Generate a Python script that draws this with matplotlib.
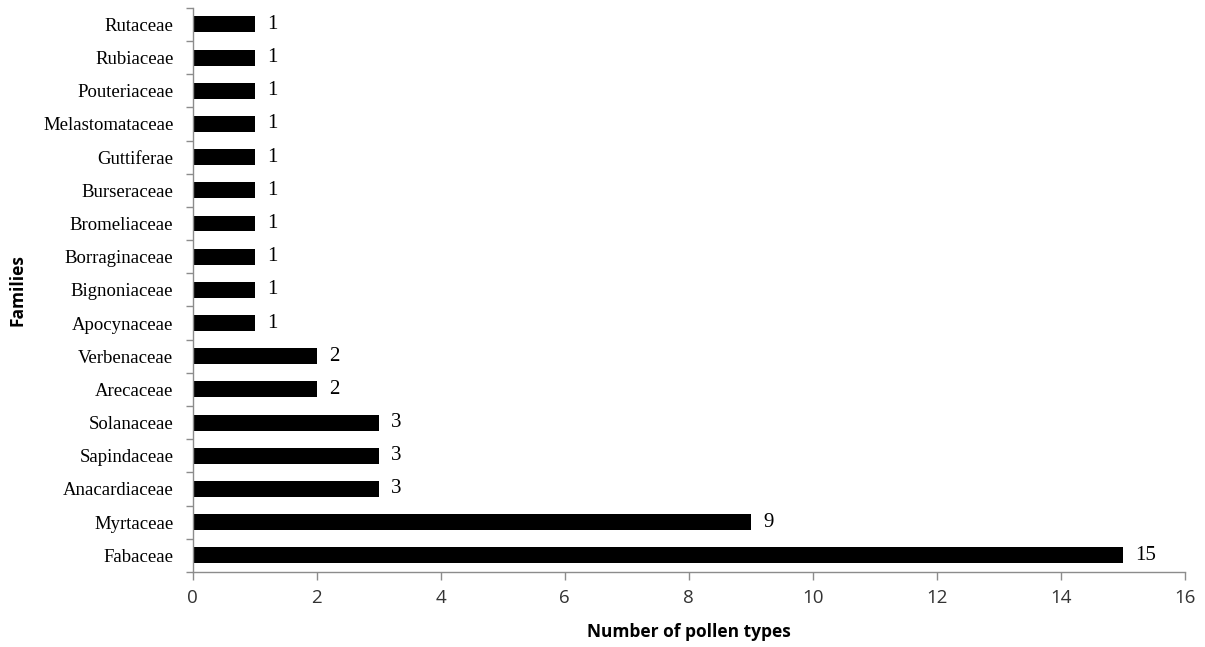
import matplotlib
matplotlib.use("Agg")
import matplotlib.pyplot as plt
import numpy as np

# 數據 (由下而上)
families = ["Fabaceae", "Myrtaceae", "Anacardiaceae", "Sapindaceae", "Solanaceae",
            "Arecaceae", "Verbenaceae", "Apocynaceae", "Bignoniaceae", "Borraginaceae",
            "Bromeliaceae", "Burseraceae", "Guttiferae", "Melastomataceae", "Pouteriaceae",
            "Rubiaceae", "Rutaceae"]
counts = [15, 9, 3, 3, 3, 2, 2, 1, 1, 1, 1, 1, 1, 1, 1, 1, 1]
xticks = [0, 2, 4, 6, 8, 10, 12, 14, 16]

GRAY = "#8c8c8c"
SERIF = ["Liberation Serif", "DejaVu Serif"]
SANS = ["Open Sans", "DejaVu Sans"]

fig = plt.figure(figsize=(12.05, 6.47), dpi=100)
ax = fig.add_axes([0.160, 0.116, 0.823, 0.872])

y = np.arange(len(families))
ax.barh(y, counts, height=0.48, color="black")

for yi, v in zip(y, counts):
    ax.text(v + 0.2, yi, str(v), va="center", ha="left", fontsize=15, family=SERIF)

ax.set_xlim(0, 16)
ax.set_ylim(-0.5, len(families) - 0.5)
ax.set_xticks(xticks)
ax.set_xticklabels([str(t) for t in xticks], family=SANS, fontsize=13.5, color="#333333")
ax.set_yticks(y)
ax.set_yticklabels(families, family=SERIF, fontsize=13.5)
ax.set_yticks(np.arange(-0.5, len(families), 1), minor=True)
ax.tick_params(axis="y", which="major", length=0, pad=14)
ax.tick_params(axis="y", which="minor", length=5, color=GRAY, width=1)
ax.tick_params(axis="x", length=6, color=GRAY, width=1, pad=6)

for s in ["top", "right"]:
    ax.spines[s].set_visible(False)
for s in ["left", "bottom"]:
    ax.spines[s].set_color(GRAY)
    ax.spines[s].set_linewidth(1)

ax.set_xlabel("Number of pollen types", family=SANS, fontsize=12.5, fontweight="bold", labelpad=12)
ax.set_ylabel("Families", family=SANS, fontsize=12.5, fontweight="bold", labelpad=12)

fig.savefig("out.png", dpi=100)
